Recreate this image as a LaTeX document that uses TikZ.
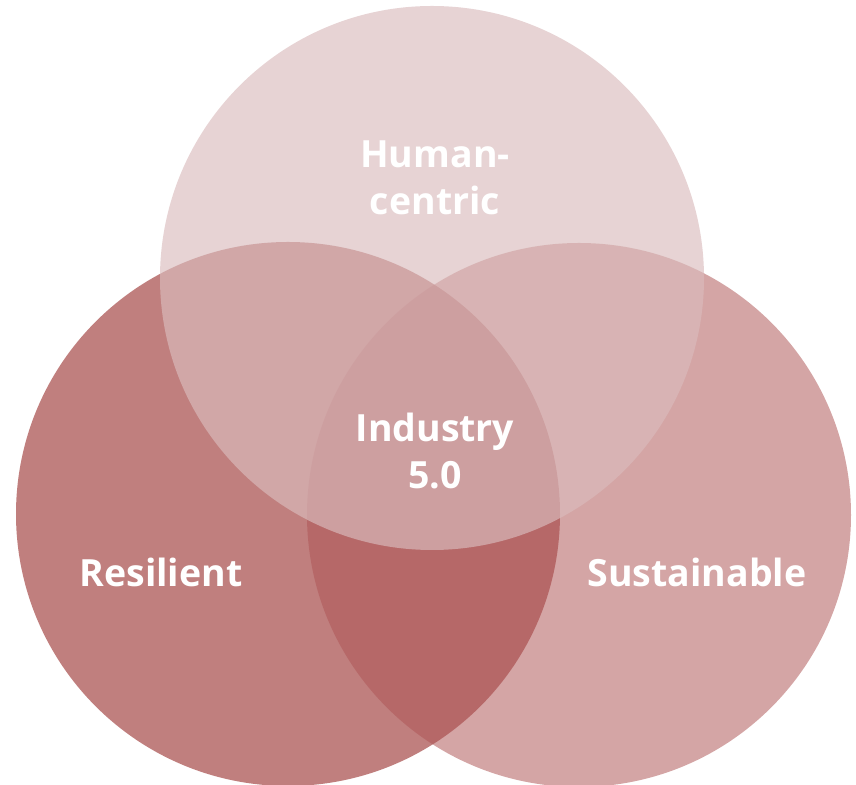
\documentclass[tikz,border=0pt]{standalone}
\usepackage{fontspec}
\setmainfont{Open Sans}
\usepackage{xcolor}
\definecolor{resilred}{RGB}{192,127,126}
\definecolor{sustainred}{RGB}{174,85,85}
\definecolor{humanpink}{RGB}{218,188,189}
\tikzset{venn text/.style={text=white, font=\bfseries\fontsize{32}{40}\selectfont, align=center}}

\begin{document}
\begin{tikzpicture}[x=0.03cm, y=0.03cm]
\useasboundingbox (0,0) rectangle (856,785);
%%%%% Circles %%%%%
\fill[resilred] (288,271) circle (272);
\fill[sustainred, fill opacity=0.53] (579,270) circle (272);
\fill[humanpink, fill opacity=0.66] (432,507) circle (272);
%%%%% Labels %%%%%
\node[venn text] (human) at (435,607) {Human-\\centric};
\node[venn text] (industry) at (435,334) {Industry\\5.0};
\node[venn text] (resilient) at (161,213) {Resilient};
\node[venn text] (sustainable) at (697,213) {Sustainable};
\end{tikzpicture}
\end{document}
